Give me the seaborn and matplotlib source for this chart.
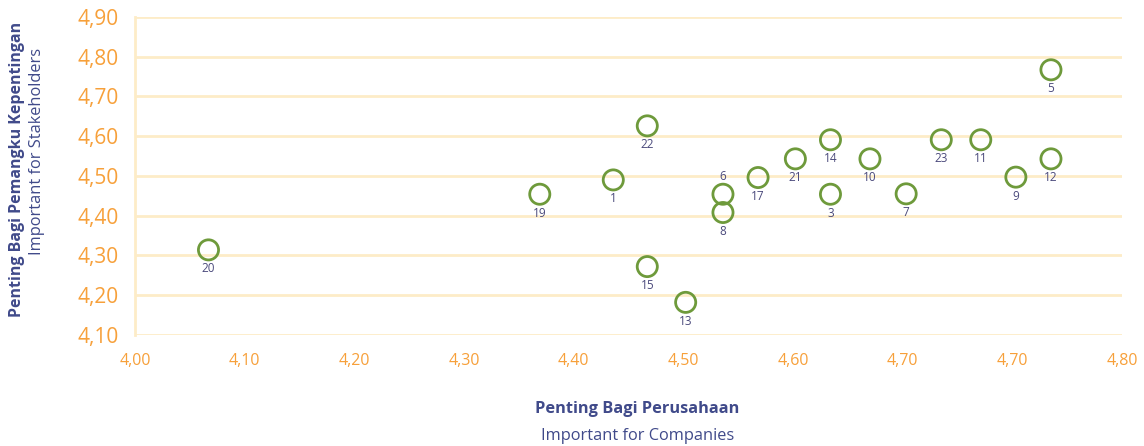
import numpy as np
import pandas as pd
import seaborn as sns
import matplotlib
matplotlib.use('Agg')
import matplotlib.pyplot as plt

# data
topik = ['1', '3', '5', '6', '7', '8', '9', '10', '11', '12', '13', '14',
         '15', '17', '19', '20', '21', '22', '23']
perusahaan = [4.436, 4.634, 4.835, 4.536, 4.703, 4.536, 4.803, 4.670, 4.771, 4.835, 4.502, 4.634,
              4.467, 4.568, 4.369, 4.067, 4.602, 4.467, 4.735]
pemangku = [4.490, 4.454, 4.767, 4.454, 4.455, 4.408, 4.497, 4.543, 4.591, 4.543, 4.182, 4.591,
            4.272, 4.496, 4.454, 4.314, 4.543, 4.626, 4.591]
label_above = ['6']

x_ticks = [4.00, 4.10, 4.20, 4.30, 4.40, 4.50, 4.60, 4.70, 4.80, 4.90]
x_ticklabels = ['4,00', '4,10', '4,20', '4,30', '4,40', '4,50', '4,60', '4,70', '4,70', '4,80']
y_ticks = [4.10, 4.20, 4.30, 4.40, 4.50, 4.60, 4.70, 4.80, 4.90]
y_ticklabels = ['4,10', '4,20', '4,30', '4,40', '4,50', '4,60', '4,70', '4,80', '4,90']

df = pd.DataFrame({'topik': topik, 'perusahaan': perusahaan, 'pemangku': pemangku})

sns.set_style('white')
plt.rcParams['font.family'] = ['Open Sans', 'DejaVu Sans']

oranye = '#f7a03a'
grid = '#fdecc8'
hijau = '#6e9a3b'
navy = '#404a8a'
teks_titik = '#4b4a7c'

fig = plt.figure(figsize=(11.44, 4.46), dpi=100)
ax = fig.add_axes([0.118, 0.249, 0.863, 0.713])

sns.scatterplot(data=df, x='perusahaan', y='pemangku', ax=ax, marker='o', s=210,
                facecolor='none', edgecolor=hijau, linewidth=2.0, zorder=3)

# nomor topik di bawah lingkaran
for _, r in df.iterrows():
    dy = 18 if r['topik'] in label_above else -19
    ax.annotate(r['topik'], (r['perusahaan'], r['pemangku']), xytext=(0, dy),
                textcoords='offset pixels', ha='center', va='center',
                fontsize=8.5, color=teks_titik)

ax.set_xlim(4.00, 4.90)
ax.set_ylim(4.10, 4.90)
ax.set_xticks(x_ticks)
ax.set_xticklabels(x_ticklabels)
ax.set_yticks(y_ticks)
ax.set_yticklabels(y_ticklabels)
ax.tick_params(axis='x', length=0, pad=13, labelsize=11.5, labelcolor=oranye)
ax.tick_params(axis='y', length=4, width=2, color=grid, pad=8, labelsize=15, labelcolor=oranye)
ax.yaxis.grid(True, color=grid, linewidth=2)
ax.xaxis.grid(False)
for s in ['top', 'right', 'bottom']:
    ax.spines[s].set_visible(False)
ax.spines['left'].set_color(grid)
ax.spines['left'].set_linewidth(2)
ax.set_xlabel('')
ax.set_ylabel('')

# judul sumbu
fig.text(0.557, 0.083, 'Penting Bagi Perusahaan', ha='center', va='center',
         fontsize=11.8, fontweight='bold', color=navy)
fig.text(0.557, 0.022, 'Important for Companies', ha='center', va='center',
         fontsize=11.8, color=navy)
fig.text(0.015, 0.621, 'Penting Bagi Pemangku Kepentingan', ha='center', va='center',
         rotation=90, fontsize=11.5, fontweight='bold', color=navy)
fig.text(0.032, 0.661, 'Important for Stakeholders', ha='center', va='center',
         rotation=90, fontsize=11.8, color=navy)

fig.savefig('out.png', dpi=100)
